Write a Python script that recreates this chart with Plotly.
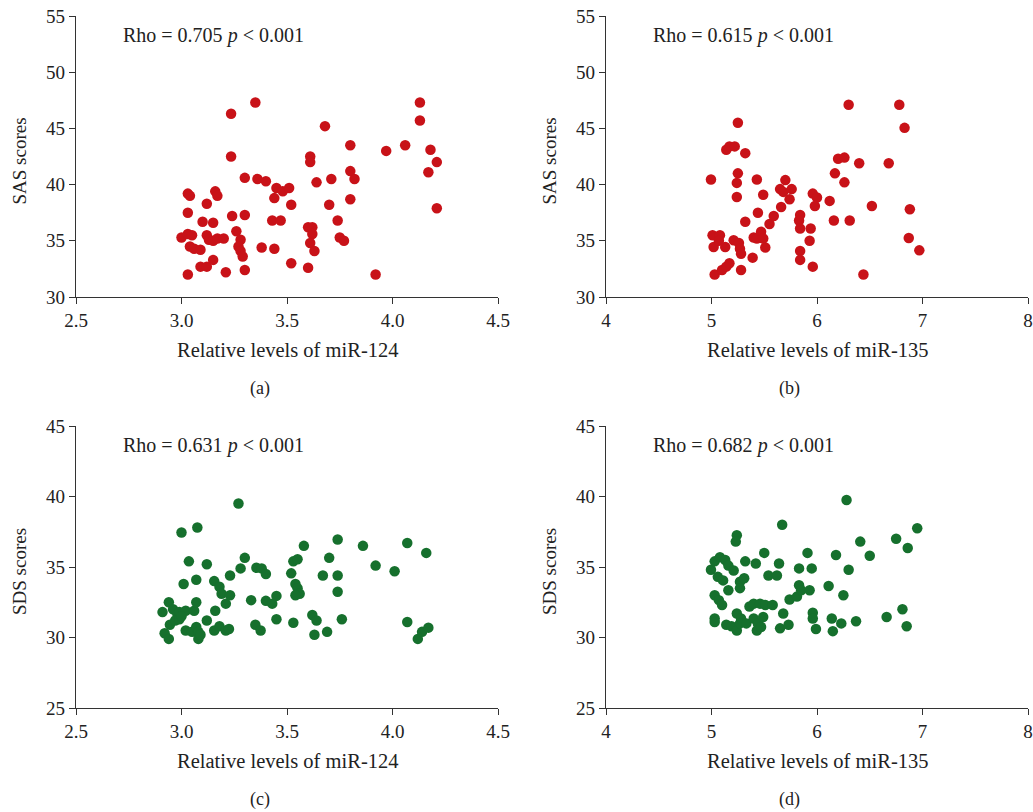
import plotly.graph_objects as go

# Panel (a): miR-124 vs SAS
a_x = [3.00, 3.03, 3.04, 3.03, 3.03, 3.03, 3.05, 3.04, 3.06, 3.09,
       3.10, 3.12, 3.15, 3.16, 3.17, 3.12, 3.13, 3.15, 3.17, 3.20,
       3.09, 3.12, 3.15, 3.21, 3.235, 3.235, 3.24, 3.26, 3.28, 3.27,
       3.28, 3.29, 3.30, 3.30, 3.30, 3.35, 3.36, 3.40, 3.38, 3.43,
       3.44, 3.45, 3.44, 3.47, 3.48, 3.51, 3.52, 3.52, 3.60, 3.60,
       3.62, 3.61, 3.61, 3.62, 3.61, 3.63, 3.64, 3.68, 3.71, 3.70,
       3.74, 3.75, 3.77, 3.80, 3.80, 3.82, 3.80, 3.92, 3.97, 4.06,
       4.13, 4.13, 4.18, 4.17, 4.21, 4.21]
a_y = [35.3, 39.2, 39.0, 37.5, 32.0, 35.6, 35.5, 34.5, 34.3, 34.2,
       36.7, 38.3, 36.6, 39.4, 39.0, 35.5, 35.1, 35.0, 35.2, 35.2,
       32.7, 32.7, 33.3, 32.2, 46.3, 42.5, 37.2, 35.85, 35.1, 34.5,
       34.1, 33.6, 37.3, 40.6, 32.4, 47.3, 40.5, 40.3, 34.4, 36.8,
       34.3, 39.7, 38.8, 36.8, 39.4, 39.7, 38.2, 33.0, 32.6, 36.2,
       36.2, 42.5, 42.0, 35.6, 34.8, 34.1, 40.2, 45.2, 40.5, 38.2,
       36.8, 35.3, 35.0, 43.5, 41.2, 40.5, 38.7, 32.0, 43.0, 43.5,
       47.3, 45.7, 43.1, 41.1, 42.0, 37.9]

# Panel (b): miR-135 vs SAS
b_x = [4.995, 5.01, 5.08, 5.02, 5.07, 5.13, 5.03, 5.10, 5.14, 5.17,
       5.14, 5.17, 5.22, 5.25, 5.25, 5.24, 5.24, 5.21, 5.26, 5.27,
       5.28, 5.28, 5.32, 5.32, 5.39, 5.43, 5.44, 5.49, 5.40, 5.43,
       5.47, 5.49, 5.51, 5.55, 5.59, 5.66, 5.65, 5.70, 5.68, 5.76,
       5.74, 5.84, 5.83, 5.84, 5.84, 5.84, 5.93, 5.94, 5.96, 5.96,
       6.00, 5.98, 6.12, 6.17, 6.16, 6.20, 6.26, 6.26, 6.30, 6.31,
       6.40, 6.44, 6.52, 6.68, 6.78, 6.83, 6.88, 6.87, 6.97]
b_y = [40.45, 35.5, 35.5, 34.45, 35.0, 34.45, 32.0, 32.4, 32.7, 33.0,
       43.1, 43.4, 43.4, 45.5, 41.0, 40.15, 38.9, 35.05, 34.8, 34.3,
       33.85, 32.4, 42.8, 36.7, 33.5, 40.45, 37.5, 39.1, 35.3, 35.2,
       35.8, 35.2, 34.4, 36.5, 37.2, 38.0, 39.6, 40.4, 39.35, 39.6,
       38.7, 37.3, 36.8, 36.1, 34.1, 33.3, 35.0, 36.1, 32.7, 39.2,
       38.85, 38.1, 38.55, 41.0, 36.8, 42.3, 42.4, 40.2, 47.1, 36.8,
       41.9, 32.0, 38.1, 41.9, 47.1, 45.05, 37.8, 35.25, 34.15]

# Panel (c): miR-124 vs SDS
c_x = [3.00, 3.075, 3.27, 3.035, 3.12, 3.01, 3.07, 2.94, 2.91, 2.96,
       2.98, 2.99, 3.02, 3.06, 3.07, 2.92, 2.94, 2.945, 2.97, 2.99,
       3.00, 3.02, 3.05, 3.07, 3.08, 3.08, 3.09, 3.12, 3.16, 3.155,
       3.18, 3.19, 3.21, 3.23, 3.155, 3.18, 3.21, 3.225, 3.23, 3.28,
       3.30, 3.33, 3.355, 3.38, 3.40, 3.35, 3.375, 3.40, 3.43, 3.45,
       3.45, 3.52, 3.53, 3.55, 3.54, 3.55, 3.56, 3.54, 3.53, 3.58,
       3.62, 3.64, 3.63, 3.69, 3.70, 3.67, 3.74, 3.74, 3.74, 3.76,
       3.86, 3.92, 4.01, 4.07, 4.07, 4.16, 4.12, 4.14, 4.17]
c_y = [37.45, 37.8, 39.5, 35.4, 35.2, 33.8, 34.1, 32.5, 31.8, 32.0,
       31.7, 31.8, 31.9, 31.9, 32.5, 30.3, 29.9, 30.9, 31.2, 31.3,
       31.5, 30.5, 30.4, 30.75, 30.4, 29.9, 30.2, 31.2, 31.9, 34.0,
       33.6, 33.1, 32.4, 33.0, 30.5, 30.8, 30.5, 30.6, 34.4, 34.9,
       35.65, 32.65, 34.95, 34.9, 34.5, 30.9, 30.5, 32.6, 32.4, 32.95,
       31.3, 34.55, 35.4, 35.55, 33.8, 33.5, 33.1, 33.0, 31.05, 36.5,
       31.6, 31.2, 30.2, 30.4, 35.65, 34.4, 36.95, 34.4, 33.25, 31.3,
       36.5, 35.1, 34.7, 36.7, 31.1, 36.0, 29.9, 30.4, 30.7]

# Panel (d): miR-135 vs SDS
d_x = [4.995, 5.03, 5.08, 5.13, 5.16, 5.21, 5.06, 5.11, 5.16, 5.03,
       5.07, 5.10, 5.03, 5.03, 5.14, 5.19, 5.24, 5.23, 5.27, 5.31,
       5.27, 5.32, 5.24, 5.28, 5.24, 5.27, 5.33, 5.36, 5.40, 5.46,
       5.51, 5.40, 5.44, 5.43, 5.47, 5.49, 5.42, 5.50, 5.54, 5.62,
       5.58, 5.64, 5.67, 5.68, 5.65, 5.73, 5.74, 5.81, 5.83, 5.85,
       5.83, 5.91, 5.93, 5.95, 5.96, 5.96, 5.99, 6.11, 6.18, 6.14,
       6.23, 6.15, 6.25, 6.28, 6.30, 6.37, 6.41, 6.50, 6.66, 6.75,
       6.81, 6.85, 6.86, 6.95]
d_y = [34.8, 35.4, 35.7, 35.5, 35.1, 34.75, 34.3, 34.05, 33.35, 33.0,
       32.65, 32.3, 31.35, 31.1, 30.9, 30.8, 37.25, 36.8, 33.95, 34.2,
       33.5, 35.4, 31.7, 31.35, 30.5, 31.0, 31.0, 32.2, 32.4, 32.4,
       32.3, 31.35, 31.0, 30.5, 30.75, 31.45, 35.25, 36.0, 34.4, 34.4,
       32.3, 35.25, 38.0, 31.7, 30.65, 30.9, 32.7, 32.9, 33.7, 33.35,
       34.9, 36.0, 33.35, 34.9, 31.75, 31.35, 30.6, 33.65, 35.85, 31.35,
       31.0, 30.45, 33.0, 39.75, 34.8, 31.15, 36.8, 35.8, 31.45, 37.0,
       32.0, 30.8, 36.35, 37.75]

rho_texts = ["Rho = 0.705 <i>p</i> < 0.001", "Rho = 0.615 <i>p</i> < 0.001",
             "Rho = 0.631 <i>p</i> < 0.001", "Rho = 0.682 <i>p</i> < 0.001"]
x_titles = ["Relative levels of miR-124", "Relative levels of miR-135",
            "Relative levels of miR-124", "Relative levels of miR-135"]
y_titles = ["SAS scores", "SAS scores", "SDS scores", "SDS scores"]
captions = ["(a)", "(b)", "(c)", "(d)"]

RED = "rgb(200,18,24)"
GREEN = "rgb(22,112,45)"
FONT = "Liberation Serif"
AXC = "#333333"
TXT = "#222222"
W, H = 1033, 812


def px(x):
    return x / W


def py(y):
    return 1 - y / H


panels = [
    dict(x=a_x, y=a_y, color=RED, xr=[2.5, 4.5], xd=0.5, xf=".1f", yr=[30, 55],
         left=76, right=498, top=16, bottom=297),
    dict(x=b_x, y=b_y, color=RED, xr=[4, 8], xd=1, xf="d", yr=[30, 55],
         left=606, right=1028, top=16, bottom=297),
    dict(x=c_x, y=c_y, color=GREEN, xr=[2.5, 4.5], xd=0.5, xf=".1f", yr=[25, 45],
         left=76, right=498, top=426, bottom=708),
    dict(x=d_x, y=d_y, color=GREEN, xr=[4, 8], xd=1, xf="d", yr=[25, 45],
         left=606, right=1028, top=426, bottom=708),
]

fig = go.Figure()
annotations = []
for i, p in enumerate(panels):
    n = i + 1
    xa = "x" if n == 1 else f"x{n}"
    ya = "y" if n == 1 else f"y{n}"
    fig.add_trace(go.Scatter(
        x=p["x"], y=p["y"], mode="markers", xaxis=xa, yaxis=ya,
        marker=dict(color=p["color"], size=10.5, line=dict(width=0)),
        showlegend=False, hoverinfo="skip", cliponaxis=False))
    axis_common = dict(showline=True, linecolor=AXC, linewidth=1.2,
                       ticks="outside", ticklen=6, tickwidth=1.2, tickcolor=AXC,
                       showgrid=False, zeroline=False, automargin=False,
                       ticklabeloverflow="allow",
                       tickfont=dict(family=FONT, size=19, color=TXT))
    fig.update_layout(**{
        ("xaxis" if n == 1 else f"xaxis{n}"): dict(
            axis_common, domain=[px(p["left"]), px(p["right"])],
            range=p["xr"], dtick=p["xd"], tick0=p["xr"][0], tickformat=p["xf"],
            anchor=ya),
        ("yaxis" if n == 1 else f"yaxis{n}"): dict(
            axis_common, domain=[py(p["bottom"]), py(p["top"])],
            range=p["yr"], dtick=5, tick0=p["yr"][0], anchor=xa),
    })
    cx = (p["left"] + p["right"]) / 2
    annotations.append(dict(text=rho_texts[i], xref="paper", yref="paper",
                            x=px(p["left"] + 45), y=py(p["top"] + 19),
                            xanchor="left", yanchor="middle", showarrow=False,
                            font=dict(family=FONT, size=20, color=TXT)))
    annotations.append(dict(text=x_titles[i], xref="paper", yref="paper",
                            x=px(cx), y=py(p["bottom"] + 53),
                            xanchor="center", yanchor="middle", showarrow=False,
                            font=dict(family=FONT, size=20.5, color=TXT)))
    annotations.append(dict(text=y_titles[i], xref="paper", yref="paper",
                            x=px(p["left"] - 57), y=py((p["top"] + p["bottom"]) / 2 + 5),
                            xanchor="center", yanchor="middle", showarrow=False,
                            textangle=-90,
                            font=dict(family=FONT, size=19, color=TXT)))
    annotations.append(dict(text=captions[i], xref="paper", yref="paper",
                            x=px(cx - 27 if i % 2 == 0 else cx - 28), y=py(p["bottom"] + 91),
                            xanchor="center", yanchor="middle", showarrow=False,
                            font=dict(family=FONT, size=18, color=TXT)))

fig.update_layout(width=W, height=H, margin=dict(l=0, r=0, t=0, b=0),
                  paper_bgcolor="white", plot_bgcolor="white",
                  annotations=annotations)
fig.write_html("out.html", config={"displayModeBar": False},
               post_script="document.body.style.margin='0px';document.body.style.overflow='hidden';")
